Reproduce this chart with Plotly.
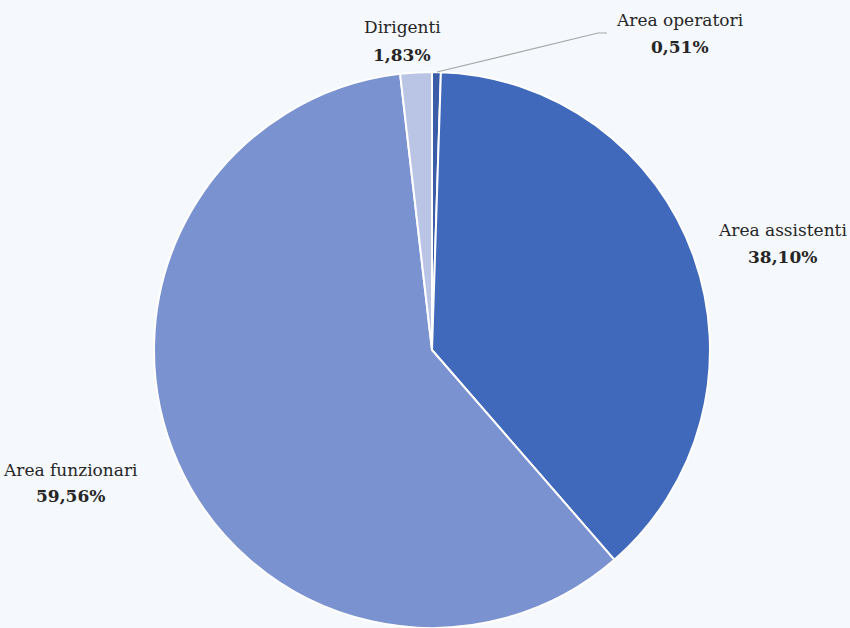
import plotly.graph_objects as go

categories = ["Area operatori", "Area assistenti", "Area funzionari", "Dirigenti"]
values = [0.51, 38.10, 59.56, 1.83]
colors = ["#3b5ca6", "#4169bb", "#7b92d1", "#bac5e6"]

W, H = 850, 628
cx, cy, r = 432, 350, 278
FONT = "DejaVu Serif"

fig = go.Figure(go.Pie(
    labels=categories,
    values=values,
    sort=False,
    direction="clockwise",
    rotation=0,
    marker=dict(colors=colors, line=dict(color="#ffffff", width=2)),
    textinfo="none",
    hoverinfo="label+percent",
    domain=dict(x=[(cx - r) / W, (cx + r) / W], y=[(H - cy - r) / H, (H - cy + r) / H]),
    showlegend=False,
))

def fmt(v):
    return f"{v:.2f}".replace(".", ",") + "%"

# (x center, y of name line, y of percent line) in pixels from top-left
label_pos = {
    "Dirigenti": (402, 27, 55),
    "Area operatori": (680, 20, 47),
    "Area assistenti": (782, 230, 257),
    "Area funzionari": (70, 470, 496),
}

for cat, v in zip(categories, values):
    x, y1, y2 = label_pos[cat]
    fig.add_annotation(
        x=x / W, y=1 - y1 / H, xref="paper", yref="paper",
        text=cat, showarrow=False, xanchor="center", yanchor="middle",
        font=dict(family=FONT, size=17, color="#262626"),
    )
    fig.add_annotation(
        x=x / W, y=1 - y2 / H, xref="paper", yref="paper",
        text=f"<b>{fmt(v)}</b>", showarrow=False, xanchor="center", yanchor="middle",
        font=dict(family=FONT, size=17, color="#262626"),
    )

# leader line for Area operatori
fig.add_shape(type="path", xref="paper", yref="paper",
              path=f"M {437/W} {1-72/H} L {598/W} {1-33/H} L {607/W} {1-33/H}",
              line=dict(color="#a6a6a6", width=1.2))

fig.update_layout(
    width=W, height=H,
    margin=dict(l=0, r=0, t=0, b=0),
    paper_bgcolor="#f5f8fc",
    plot_bgcolor="#f5f8fc",
    font=dict(family=FONT),
)

fig.write_html("out.html", config={"displayModeBar": False},
               post_script="document.body.style.margin='0';document.body.style.background='#f5f8fc';")
